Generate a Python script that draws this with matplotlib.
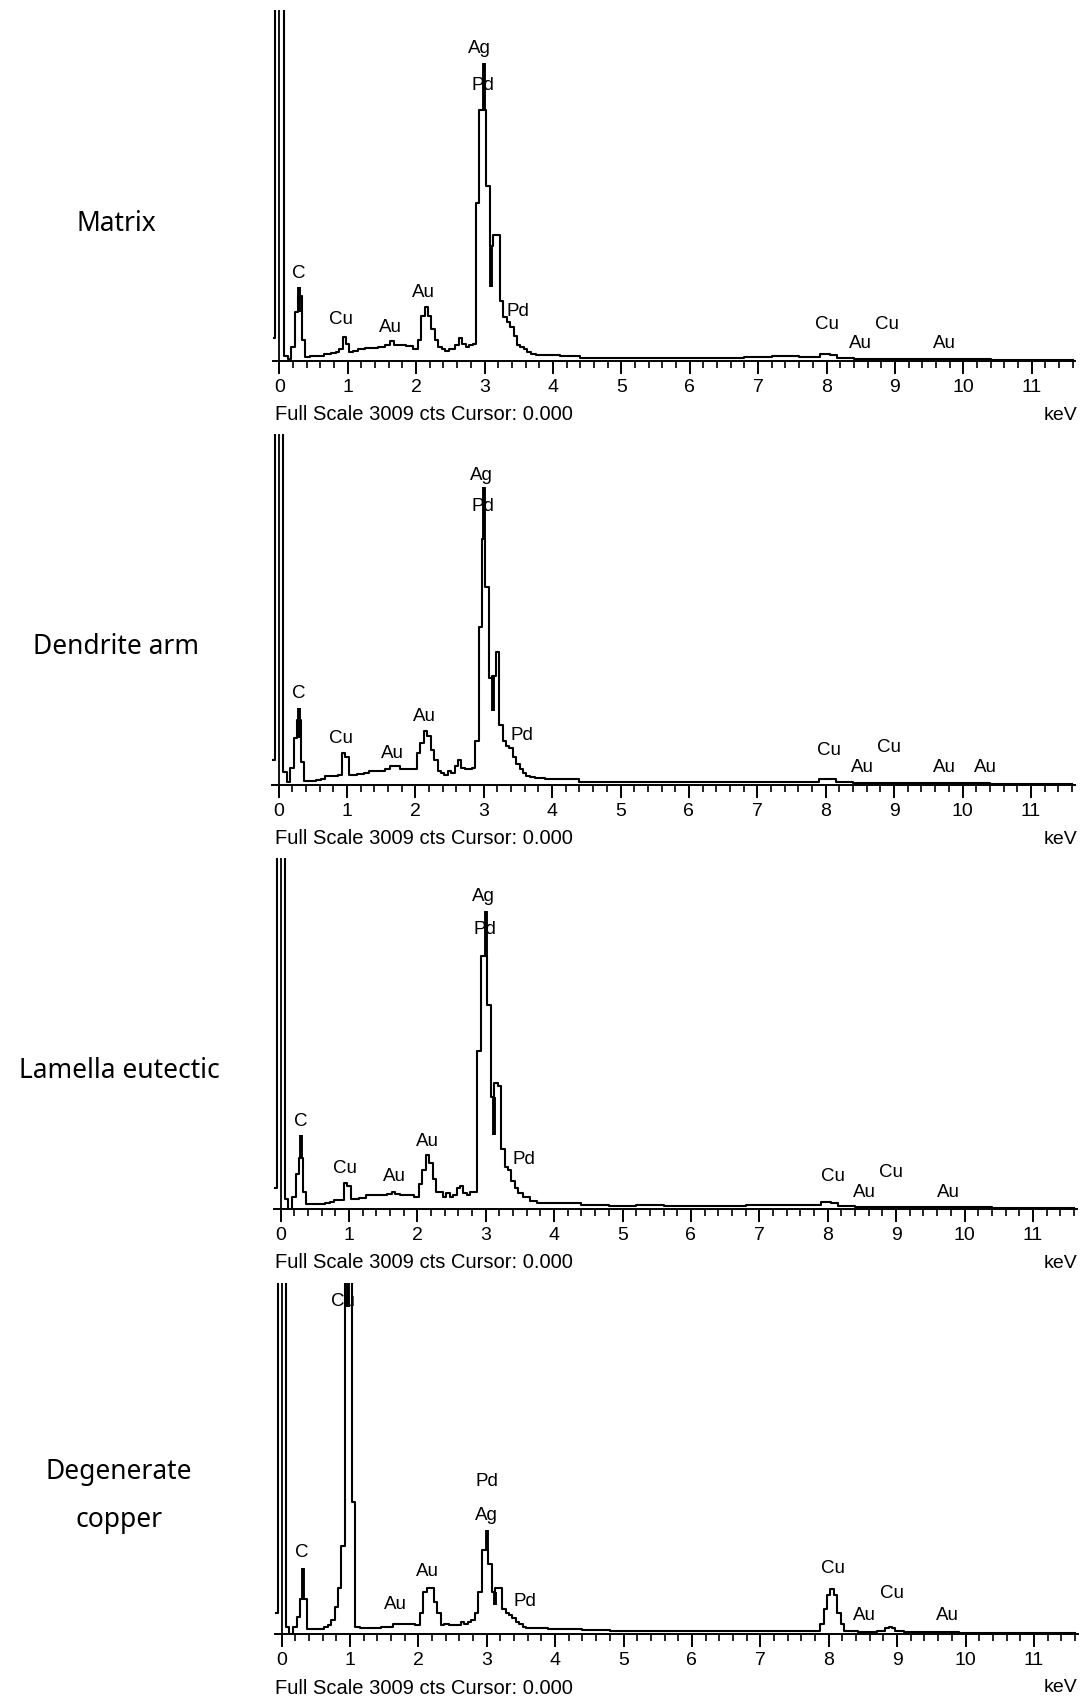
import numpy as np
import matplotlib
matplotlib.use('Agg')
import matplotlib.pyplot as plt
from matplotlib.ticker import MultipleLocator

FULL_SCALE = 3009  # cts

# ---- spectra: energy (keV) and counts ----
matrix_kev = [-0.085, -0.03, 0.0, 0.04, 0.09, 0.15, 0.2, 0.25, 0.3, 0.35, 0.4, 0.5, 0.6, 0.7, 0.8, 0.85,
              0.9, 0.95, 1.0, 1.05, 1.1, 1.2, 1.3, 1.4, 1.5, 1.6, 1.65, 1.7, 1.8, 1.9, 2.0, 2.05, 2.1,
              2.15, 2.2, 2.25, 2.3, 2.35, 2.4, 2.45, 2.5, 2.55, 2.6, 2.65, 2.7, 2.75, 2.8, 2.85, 2.9,
              2.95, 3.0, 3.05, 3.1, 3.15, 3.2, 3.25, 3.3, 3.35, 3.4, 3.45, 3.5, 3.55, 3.6, 3.65, 3.7,
              3.8, 4.0, 4.2, 4.6, 5.0, 5.4, 5.8, 6.2, 6.6, 7.0, 7.4, 7.8, 8.0, 8.1, 8.2, 8.6, 9.2,
              10.0, 10.8, 11.6]
matrix_cts = [196, 4000, 4000, 4000, 45, 15, 120, 421, 560, 180, 36, 39, 39, 60, 66, 75,
              105, 210, 150, 75, 90, 105, 110, 110, 120, 135, 170, 135, 135, 130, 105, 180, 390,
              460, 390, 271, 180, 120, 105, 90, 105, 105, 135, 196, 150, 120, 135, 150, 1354,
              2150, 2150, 1500, 990, 1083, 1083, 512, 379, 331, 295, 211, 135, 120, 105, 75, 60,
              54, 48, 42, 30, 27, 30, 24, 24, 27, 36, 39, 36, 60, 54, 30, 18, 15,
              15, 12, 12]

dendrite_kev = [-0.085, -0.03, 0.0, 0.04, 0.09, 0.15, 0.2, 0.25, 0.3, 0.35, 0.4, 0.5, 0.6, 0.65, 0.7, 0.8,
                0.85, 0.9, 0.95, 1.0, 1.05, 1.1, 1.2, 1.3, 1.35, 1.5, 1.6, 1.65, 1.7, 1.75, 1.8, 1.9,
                2.0, 2.05, 2.1, 2.15, 2.2, 2.25, 2.3, 2.35, 2.4, 2.45, 2.5, 2.55, 2.6, 2.65, 2.7, 2.75,
                2.8, 2.85, 2.9, 2.95, 3.0, 3.05, 3.1, 3.15, 3.2, 3.25, 3.3, 3.35, 3.4, 3.45, 3.5, 3.55,
                3.6, 3.65, 3.7, 3.8, 4.0, 4.2, 4.6, 5.0, 5.4, 5.8, 6.2, 6.6, 7.0, 7.4, 7.8, 8.0, 8.1,
                8.2, 8.6, 9.2, 10.0, 10.8, 11.6]
dendrite_cts = [211, 4000, 4000, 4000, 115, 30, 150, 400, 560, 200, 36, 36, 40, 54, 75, 75,
                80, 90, 271, 241, 90, 90, 95, 100, 120, 120, 135, 165, 165, 160, 135, 135,
                135, 271, 361, 466, 421, 301, 211, 120, 105, 90, 120, 105, 165, 211, 150, 135,
                135, 150, 379, 1354, 2106, 1700, 920, 935, 1143, 512, 379, 331, 320, 241, 180, 135,
                105, 75, 66, 60, 54, 48, 30, 30, 27, 27, 24, 27, 30, 27, 24, 50, 50,
                24, 18, 15, 15, 12, 12]

lamella_kev = [-0.085, -0.03, 0.0, 0.04, 0.09, 0.13, 0.2, 0.25, 0.3, 0.35, 0.4, 0.5, 0.6, 0.7, 0.75, 0.8,
               0.9, 0.95, 1.0, 1.05, 1.1, 1.2, 1.3, 1.4, 1.5, 1.6, 1.65, 1.7, 1.8, 1.9, 2.0, 2.05,
               2.1, 2.15, 2.2, 2.25, 2.3, 2.35, 2.4, 2.45, 2.5, 2.55, 2.6, 2.65, 2.7, 2.75, 2.8, 2.85,
               2.9, 2.95, 3.0, 3.05, 3.1, 3.15, 3.2, 3.25, 3.3, 3.35, 3.4, 3.45, 3.5, 3.6, 3.7, 3.8,
               4.0, 4.2, 4.6, 5.0, 5.4, 5.8, 6.2, 6.6, 7.0, 7.4, 7.8, 8.0, 8.1, 8.2, 8.6, 9.2, 10.0,
               10.8, 11.6]
lamella_cts = [180, 4000, 4000, 4000, 90, 0, 100, 300, 440, 150, 45, 45, 45, 50, 60, 75,
               75, 226, 196, 90, 90, 95, 120, 120, 120, 125, 150, 130, 120, 120, 105, 211,
               331, 466, 391, 256, 150, 150, 105, 135, 105, 120, 180, 196, 135, 120, 150, 150,
               1354, 2166, 2166, 1745, 963, 1083, 1053, 512, 361, 331, 241, 180, 135, 105, 66, 54,
               54, 48, 36, 30, 33, 30, 24, 30, 36, 36, 33, 60, 54, 27, 15, 15, 15,
               12, 12]

copper_kev = [-0.085, -0.03, 0.0, 0.04, 0.09, 0.14, 0.2, 0.25, 0.3, 0.35, 0.4, 0.5, 0.6, 0.65, 0.7, 0.75,
              0.8, 0.85, 0.9, 0.95, 1.0, 1.05, 1.1, 1.2, 1.3, 1.4, 1.5, 1.6, 1.65, 1.7, 1.8, 1.9,
              2.0, 2.05, 2.1, 2.15, 2.2, 2.25, 2.3, 2.35, 2.4, 2.5, 2.6, 2.65, 2.7, 2.75, 2.8, 2.85,
              2.9, 2.95, 3.0, 3.05, 3.1, 3.15, 3.2, 3.25, 3.3, 3.35, 3.4, 3.45, 3.5, 3.55, 3.6, 3.8,
              4.0, 4.2, 4.6, 5.0, 5.4, 5.8, 6.2, 6.6, 7.0, 7.4, 7.8, 7.85, 7.9, 7.95, 8.0, 8.05, 8.1,
              8.15, 8.2, 8.25, 8.6, 8.8, 8.85, 8.9, 8.95, 9.0, 9.2, 9.6, 9.7, 9.8, 10.0, 10.8, 11.6]
copper_cts = [180, 4000, 4000, 4000, 60, 0, 60, 150, 301, 301, 45, 45, 45, 60, 75, 120,
              235, 391, 752, 4000, 4000, 1131, 60, 54, 54, 54, 60, 60, 90, 84, 84, 84,
              75, 180, 361, 391, 391, 271, 180, 75, 90, 75, 75, 105, 90, 105, 120, 180,
              361, 722, 722, 600, 361, 391, 391, 211, 180, 165, 135, 105, 90, 60, 48, 48,
              45, 42, 36, 30, 30, 30, 27, 27, 27, 27, 30, 30, 90, 211, 331, 385, 331,
              180, 90, 30, 18, 30, 50, 57, 50, 30, 15, 15, 20, 20, 12, 12, 12]

# single-channel spikes (keV, low cts, high cts) that show up as thick bars
matrix_spikes = [(0.29, 421, 632), (2.99, 2150, 2558), (3.095, 632, 993)]
dendrite_spikes = [(0.3, 400, 662), (3.0, 2106, 2558), (3.13, 632, 935)]
lamella_spikes = [(0.3, 440, 632), (3.0, 2166, 2558), (3.12, 632, 963)]
copper_spikes = [(0.31, 301, 563), (0.97, 2800, 4000), (3.01, 722, 890), (3.12, 250, 361)]

# peak labels (text, keV, cts)
matrix_labels = [('C', 0.28, 752), ('Cu', 0.90, 352), ('Au', 1.63, 283), ('Au', 2.11, 584),
                 ('Ag', 2.93, 2678), ('Pd', 2.97, 2365), ('Pd', 3.49, 421), ('Cu', 8.01, 310),
                 ('Au', 8.49, 153), ('Cu', 8.88, 316), ('Au', 9.72, 153)]
dendrite_labels = [('C', 0.30, 785), ('Cu', 0.92, 400), ('Au', 1.67, 271), ('Au', 2.14, 587),
                   ('Ag', 2.97, 2657), ('Pd', 2.99, 2386), ('Pd', 3.56, 427), ('Cu', 8.05, 292),
                   ('Au', 8.53, 150), ('Cu', 8.93, 325), ('Au', 9.73, 150), ('Au', 10.34, 150)]
lamella_labels = [('C', 0.295, 749), ('Cu', 0.94, 349), ('Au', 1.66, 277), ('Au', 2.15, 578),
                  ('Ag', 2.96, 2678), ('Pd', 2.99, 2392), ('Pd', 3.56, 421), ('Cu', 8.08, 277),
                  ('Au', 8.54, 138), ('Cu', 8.93, 310), ('Au', 9.77, 138)]
copper_labels = [('Cu', 0.90, 2850), ('C', 0.295, 695), ('Au', 1.66, 250), ('Au', 2.14, 533),
                 ('Pd', 3.0, 1306), ('Ag', 2.99, 1020), ('Pd', 3.56, 277), ('Cu', 8.06, 563),
                 ('Au', 8.52, 162), ('Cu', 8.93, 349), ('Au', 9.74, 162)]

names = [['Matrix'], ['Dendrite arm'], ['Lamella eutectic'], ['Degenerate', 'copper']]
spectra = [(matrix_kev, matrix_cts, matrix_spikes, matrix_labels),
           (dendrite_kev, dendrite_cts, dendrite_spikes, dendrite_labels),
           (lamella_kev, lamella_cts, lamella_spikes, lamella_labels),
           (copper_kev, copper_cts, copper_spikes, copper_labels)]

# ---- layout (pixels) ----
W, H = 1085, 1700
PX_KEV = 68.4
XMIN, XMAX = -0.09, 11.64
PANEL_H = 351
zero_px = [279.3, 278.5, 280.5, 281.5]
base_px = [361, 785, 1209, 1634]
name_x = [116, 116, 119, 119]
name_y = [[224], [647], [1071], [1472, 1520]]

fig = plt.figure(figsize=(W / 100, H / 100), dpi=100)
fig.patch.set_facecolor('white')

for i, (kev, cts, spikes, labels) in enumerate(spectra):
    left = zero_px[i] + XMIN * PX_KEV
    width = (XMAX - XMIN) * PX_KEV
    ax = fig.add_axes([left / W, 1 - base_px[i] / H, width / W, PANEL_H / H])
    ax.set_xlim(XMIN, XMAX)
    ax.set_ylim(0, FULL_SCALE)
    ax.patch.set_alpha(0)

    ax.step(kev, cts, where='mid', color='black', lw=1.5)
    for e, lo, hi in spikes:
        ax.vlines(e, lo, hi, color='black', lw=2.8)
    ax.axvline(0.0, color='black', lw=1.3)  # cursor at 0.000 keV

    for txt, e, y in labels:
        ax.text(e, y, txt, ha='center', va='center', fontsize=13.5,
                family='Liberation Sans', color='black')

    for s in ['top', 'right', 'left']:
        ax.spines[s].set_visible(False)
    ax.spines['bottom'].set_linewidth(1.4)
    ax.set_yticks([])
    ax.xaxis.set_major_locator(MultipleLocator(1))
    ax.xaxis.set_minor_locator(MultipleLocator(0.2))
    ax.tick_params(axis='x', which='major', length=9, width=1.4, pad=4, labelsize=14)
    ax.tick_params(axis='x', which='minor', length=5, width=1.2)
    ax.set_xticks(range(0, 12))
    for lab in ax.get_xticklabels():
        lab.set_family('Liberation Sans')

    yb = 1 - (base_px[i] + 54) / H
    fig.text(275 / W, yb, 'Full Scale 3009 cts Cursor: 0.000', ha='left', va='center',
             fontsize=14.5, family='Liberation Sans')
    fig.text(1077 / W, yb, 'keV', ha='right', va='center', fontsize=14, family='Liberation Sans')

    for line, ny in zip(names[i], name_y[i]):
        fig.text(name_x[i] / W, 1 - ny / H, line, ha='center', va='center', fontsize=19,
                 family='Noto Sans')

fig.savefig('out.png', dpi=100, facecolor='white')
